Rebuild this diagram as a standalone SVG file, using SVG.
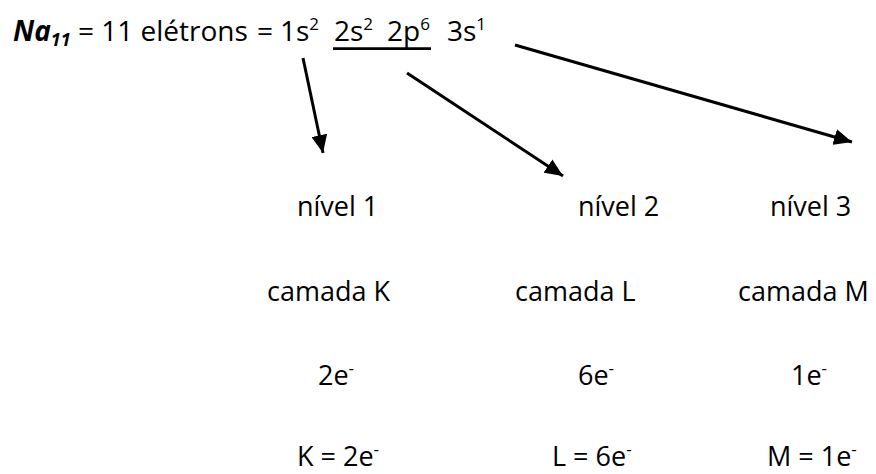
<svg xmlns="http://www.w3.org/2000/svg" width="876" height="474" viewBox="0 0 876 474">
  <style>
    text { font-family: "Open Sans", "Noto Sans", "Liberation Sans", sans-serif; font-size: 27px; fill: #000; }
    .f { font-size: 28px; }
    .bi { font-weight: bold; font-style: italic; }
    .sup { font-size: 17px; }
    .conn { stroke: #000; stroke-width: 3; fill: none; marker-end: url(#ah); }
  </style>
  <defs>
    <marker id="ah" markerUnits="userSpaceOnUse" markerWidth="19" markerHeight="16" refX="18" refY="8" orient="auto">
      <path d="M0,0 L18,8 L0,16 z" fill="#000"/>
    </marker>
  </defs>
  <rect width="876" height="474" fill="#fff"/>

  <g id="formula">
    <text class="f" y="41"><tspan x="13" class="bi">Na</tspan><tspan class="bi" font-size="18" dy="5">11</tspan></text>
    <text class="f" x="78" y="41" font-size="29">= 11 elétrons</text>
    <text class="f" x="257" y="41">=</text>
    <text class="f" y="41"><tspan x="280">1s</tspan><tspan class="sup" dy="-11">2</tspan></text>
    <text class="f" y="41"><tspan x="334">2s</tspan><tspan class="sup" dy="-11">2</tspan></text>
    <text class="f" y="41"><tspan x="387">2p</tspan><tspan class="sup" dy="-11">6</tspan></text>
    <text class="f" y="41"><tspan x="447">3s</tspan><tspan class="sup" dy="-11">1</tspan></text>
    <line x1="333" y1="48.7" x2="431" y2="48.7" stroke="#000" stroke-width="2.7"/>
  </g>

  <g id="connectors">
    <line class="conn" x1="303" y1="58" x2="323" y2="153"/>
    <line class="conn" x1="407" y1="73" x2="563" y2="176"/>
    <line class="conn" x1="515" y1="45" x2="852" y2="142"/>
  </g>

  <g id="level1">
    <text x="297" y="216">nível 1</text>
    <text x="267" y="301">camada K</text>
    <text x="318" y="385">2e<tspan class="sup" dy="-11">-</tspan></text>
    <text x="297" y="466">K = 2e<tspan class="sup" dy="-11">-</tspan></text>
  </g>

  <g id="level2">
    <text x="578" y="216">nível 2</text>
    <text x="515" y="301">camada L</text>
    <text x="578" y="385">6e<tspan class="sup" dy="-11">-</tspan></text>
    <text x="552" y="466">L = 6e<tspan class="sup" dy="-11">-</tspan></text>
  </g>

  <g id="level3">
    <text x="770" y="216">nível 3</text>
    <text x="738" y="301">camada M</text>
    <text x="791" y="385">1e<tspan class="sup" dy="-11">-</tspan></text>
    <text x="767" y="466">M = 1e<tspan class="sup" dy="-11">-</tspan></text>
  </g>
</svg>
